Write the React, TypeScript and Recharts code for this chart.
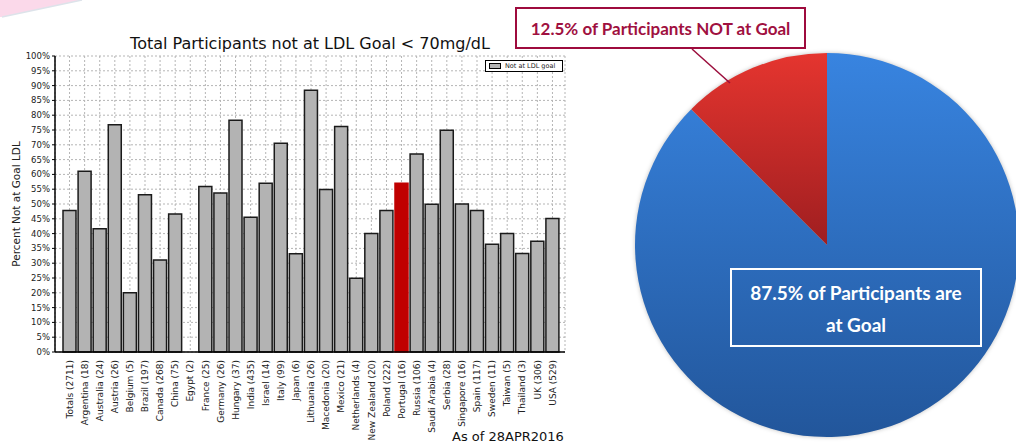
import React from 'react';
import { BarChart, Bar, XAxis, YAxis, CartesianGrid, Cell, PieChart, Pie } from 'recharts';

const COUNTRIES = [
  'Totals', 'Argentina', 'Australia', 'Austria', 'Belgium', 'Brazil', 'Canada', 'China', 'Egypt', 'France',
  'Germany', 'Hungary', 'India', 'Israel', 'Italy', 'Japan', 'Lithuania', 'Macedonia', 'Mexico', 'Netherlands',
  'New Zealand', 'Poland', 'Portugal', 'Russia', 'Saudi Arabia', 'Serbia', 'Singapore', 'Spain', 'Sweden', 'Taiwan',
  'Thailand', 'UK', 'USA',
];
const PARTICIPANTS = [2711, 18, 24, 26, 5, 197, 268, 75, 2, 25, 26, 37, 435, 14, 99, 6, 26, 20, 21, 4, 20, 222, 16, 106, 4, 28, 16, 117, 11, 5, 3, 306, 529];
const PCT_NOT_AT_GOAL = [47.8, 61.1, 41.6, 76.8, 20.0, 53.1, 31.1, 46.6, 0, 55.9, 53.7, 78.3, 45.5, 57.0, 70.5, 33.2, 88.4, 54.9, 76.2, 24.9, 40.0, 47.8, 57.0, 66.9, 49.9, 74.9, 50.0, 47.8, 36.4, 40.0, 33.3, 37.4, 45.1];
const HIGHLIGHT = 'Portugal';
const Y_TICKS = [0, 5, 10, 15, 20, 25, 30, 35, 40, 45, 50, 55, 60, 65, 70, 75, 80, 85, 90, 95, 100];

const PIE_LABELS = ['At Goal', 'NOT at Goal'];
const PIE_VALUES = [87.5, 12.5];
const PIE_FILLS = ['url(#gradBlue)', 'url(#gradRed)'];

const barData = COUNTRIES.map((c, i) => ({ label: `${c} (${PARTICIPANTS[i]})`, country: c, pct: PCT_NOT_AT_GOAL[i] }));
const pieData = PIE_LABELS.map((name, i) => ({ name, value: PIE_VALUES[i] }));

const DV = '"DejaVu Sans", sans-serif';
const CAL = 'Lato, "Open Sans", sans-serif';

const XTick = (props: any) => {
  const { x, y, payload } = props;
  return (
    <text x={x} y={y} transform={`rotate(-90 ${x} ${y})`} textAnchor="end" dy="0.35em"
      fontSize={9} fontFamily={DV} fill="#222">
      {payload.value}
    </text>
  );
};

export default function App() {
  return (
    <div style={{ position: 'absolute', left: 0, top: 0, width: 1016, height: 446, background: '#fff', overflow: 'hidden' }}>
      {/* pink corner decoration */}
      <svg width={100} height={24} style={{ position: 'absolute', left: 0, top: 0 }}>
        <polygon points="0,0 82,0 2,17 0,17" fill="#fbd9ea" />
        <line x1={82} y1={0} x2={2} y2={17} stroke="#dde3ea" strokeWidth={1.5} />
      </svg>

      <div style={{ position: 'absolute', left: 55, width: 510, top: 34, textAlign: 'center', fontFamily: DV, fontSize: 16, color: '#111' }}>
        Total Participants not at LDL Goal &lt; 70mg/dL
      </div>

      <div style={{ position: 'absolute', left: 0, top: 0, width: 580, height: 446 }}>
        <BarChart width={580} height={446} data={barData} margin={{ top: 56, right: 15, bottom: 0, left: 0 }}>
          <CartesianGrid stroke="#b5b5b5" strokeDasharray="2 2" />
          <XAxis dataKey="label" interval={0} height={94} padding={{ left: 7, right: 5 }} tick={<XTick />}
            tickLine={false} axisLine={{ stroke: '#000', strokeWidth: 1.5 }} />
          <YAxis domain={[0, 100]} ticks={Y_TICKS} interval={0} width={55} tickFormatter={(v) => `${v}%`} tickSize={3} tickMargin={2}
            tick={{ fontSize: 8.5, fontFamily: DV, fill: '#222' }}
            axisLine={{ stroke: '#000', strokeWidth: 1.5 }} tickLine={{ stroke: '#000' }}
            label={{ value: 'Percent Not at Goal LDL', angle: -90, position: 'center', dx: -11, style: { fontSize: 10.5, fontFamily: DV, fill: '#222' } }} />
          <Bar dataKey="pct" name="Not at LDL goal" barSize={13} fill="#b3b3b3" stroke="#1a1a1a" strokeWidth={1.5} isAnimationActive={false}>
            {barData.map((d) => (
              <Cell key={d.country} fill={d.country === HIGHLIGHT ? '#c00000' : '#b3b3b3'} stroke={d.country === HIGHLIGHT ? '#c00000' : '#1a1a1a'} />
            ))}
          </Bar>
        </BarChart>
      </div>

      {/* legend */}
      <div style={{ position: 'absolute', left: 485, top: 60, width: 76, height: 10, border: '1px solid #000', background: '#fff', display: 'flex', alignItems: 'center', fontFamily: DV, fontSize: 6.5, color: '#222' }}>
        <div style={{ width: 10, height: 4, border: '1px solid #000', background: '#b3b3b3', margin: '0 4px 0 3px' }} />
        <span>Not at LDL goal</span>
      </div>

      <div style={{ position: 'absolute', left: 452, top: 429, fontFamily: DV, fontSize: 13, color: '#111' }}>As of 28APR2016</div>

      <div style={{ position: 'absolute', left: 616, top: 0, width: 400, height: 446, filter: 'drop-shadow(0 0 2px rgba(0,0,0,0.25))' }}>
        <PieChart width={400} height={446} margin={{ top: 0, right: 0, bottom: 0, left: 0 }}>
          <defs>
            <linearGradient id="gradBlue" x1="0" y1="0" x2="0" y2="1">
              <stop offset="0%" stopColor="#3884e0" />
              <stop offset="100%" stopColor="#22569b" />
            </linearGradient>
            <linearGradient id="gradRed" x1="0" y1="0" x2="0" y2="1">
              <stop offset="0%" stopColor="#e5352f" />
              <stop offset="100%" stopColor="#9f1e20" />
            </linearGradient>
          </defs>
          <Pie data={pieData} dataKey="value" nameKey="name" cx={211} cy={245} outerRadius={192}
            startAngle={90} endAngle={-270} stroke="none" isAnimationActive={false}>
            {pieData.map((d, i) => <Cell key={d.name} fill={PIE_FILLS[i]} />)}
          </Pie>
        </PieChart>
      </div>

      <svg width={1016} height={446} style={{ position: 'absolute', left: 0, top: 0, pointerEvents: 'none' }}>
        <line x1={692} y1={49} x2={730} y2={83} stroke="#9b0d3c" strokeWidth={1.5} />
      </svg>

      <div style={{ position: 'absolute', left: 515, top: 7, width: 291, height: 42, boxSizing: 'border-box', border: '2px solid #9e0b3d', background: '#fff',
        display: 'flex', alignItems: 'center', justifyContent: 'center', fontFamily: CAL, fontWeight: 700, fontSize: 17, color: '#a0103f' }}>
        12.5% of Participants NOT at Goal
      </div>

      <div style={{ position: 'absolute', left: 730, top: 268, width: 252, height: 79, boxSizing: 'border-box', border: '2px solid #fff',
        paddingTop: 7, textAlign: 'center', fontFamily: CAL, fontWeight: 700, fontSize: 19, lineHeight: '32px', color: '#fff' }}>
        87.5% of Participants are<br />at Goal
      </div>
    </div>
  );
}
